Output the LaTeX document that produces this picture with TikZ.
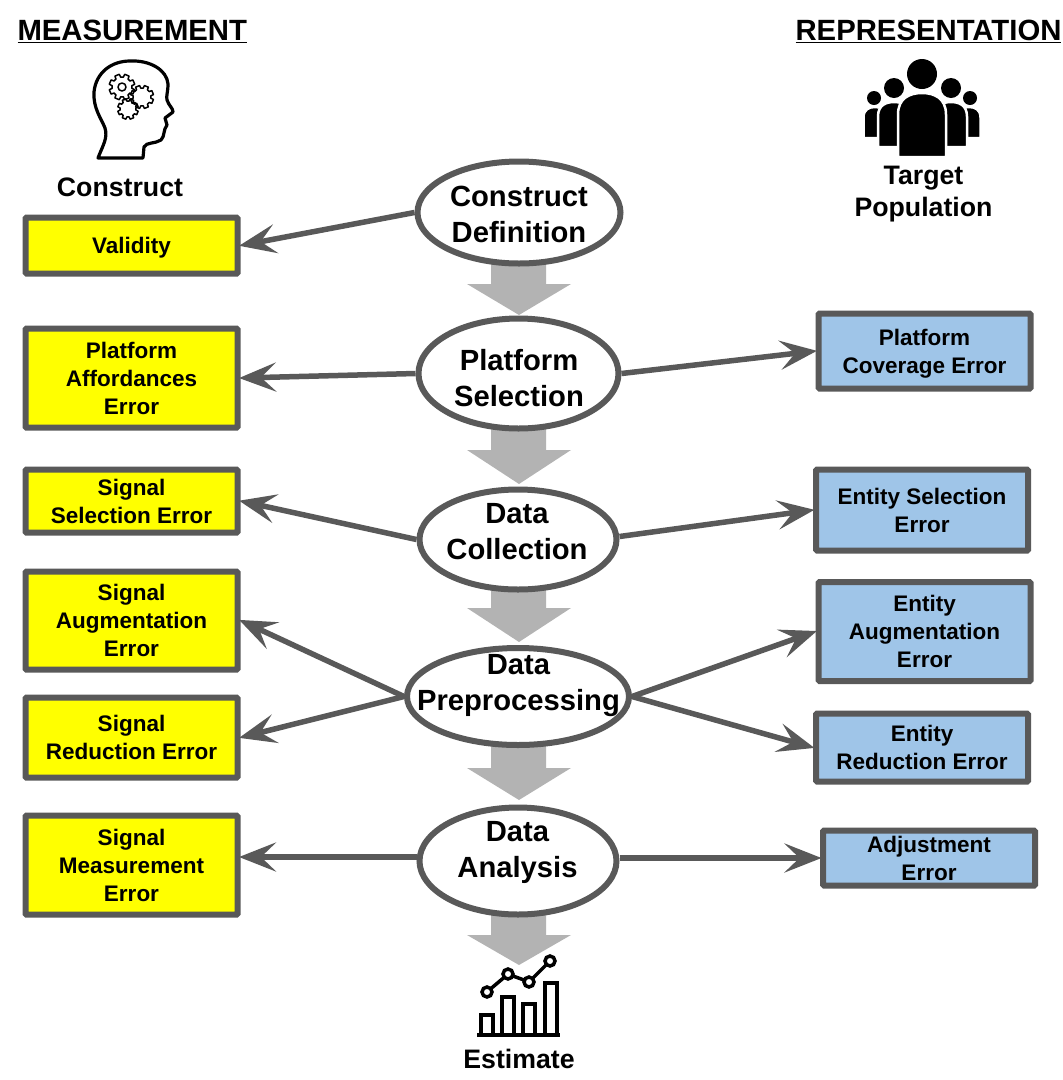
\documentclass[tikz,border=0pt]{standalone}
\usepackage{fontspec}
\setmainfont{Liberation Sans}
\usetikzlibrary{arrows.meta,shapes.geometric}
\definecolor{linegray}{HTML}{595959}
\definecolor{flowgray}{HTML}{B3B3B3}
\definecolor{boxblue}{HTML}{9FC5E8}
\definecolor{boxyellow}{HTML}{FFFF00}
\tikzset{
  errbox/.style={draw=linegray,line width=6pt,rounded corners=1pt,minimum width=212pt,align=center,text depth=0pt,
    font=\fontsize{22.5}{28}\selectfont\bfseries},
  measbox/.style={errbox,fill=boxyellow},
  reprbox/.style={errbox,fill=boxblue},
  stage/.style={draw=linegray,line width=6pt,ellipse,fill=white,inner sep=0pt},
  stagetext/.style={align=center,font=\fontsize{29.2}{36}\selectfont\bfseries},
  caption/.style={align=center,font=\fontsize{26.7}{32}\selectfont\bfseries},
  heading/.style={font=\fontsize{29.3}{34}\selectfont\bfseries},
  conn/.style={draw=linegray,line width=5.5pt,shorten >=-1.5pt,-{Stealth[length=37pt,width=29pt,inset=15pt]}},
  gearline/.style={draw=black,line width=1.5pt,line join=round},
  iconline/.style={draw=black,line width=3.5pt}
}
% one gear of the head icon: x, y, radius
\newcommand{\geartooth}[3]{
  \draw[gearline,shift={(#1,#2)}] (8:#3)
    \foreach \a in {0,45,...,315} {-- (\a+8:#3) -- (\a+12:#3*1.3) -- (\a+33:#3*1.3) -- (\a+37:#3)} -- cycle;
}
% one person of the crowd icon: centre x, half width, top, bottom
\newcommand{\crowdbody}[4]{
  \fill[black,draw=white,line width=2.5pt] (#1-#2,#4) -- (#1-#2,#3+#2*0.9)
    .. controls (#1-#2,#3+#2*0.2) and (#1-#2*0.5,#3) .. (#1,#3)
    .. controls (#1+#2*0.5,#3) and (#1+#2,#3+#2*0.2) .. (#1+#2,#3+#2*0.9)
    -- (#1+#2,#4) -- cycle;
}
\begin{document}
\begin{tikzpicture}[x=1pt,y=-1pt]
\useasboundingbox (0,0) rectangle (1063,1080);

% headings
\node[heading,anchor=west] (meastitle) at (14,31) {\underline{MEASUREMENT}};
\node[heading,anchor=east] (reprtitle) at (1065,31) {\underline{REPRESENTATION}};

% head icon
\draw[black,line width=3.2pt,line join=round] (98,158) .. controls (103,145) and (108,138) .. (105,128)
  .. controls (101,118) and (93,108) .. (94,92)
  .. controls (96,72) and (112,61) .. (130,61)
  .. controls (150,60) and (167,70) .. (168,84)
  .. controls (168,92) and (166,96) .. (167,100)
  .. controls (169,106) and (173,108) .. (173,112)
  -- (165,118) -- (167,125)
  .. controls (163,130) and (165,136) .. (161,140)
  .. controls (155,144) and (146,142) .. (144,147)
  -- (143,158) -- cycle;
\geartooth{122}{87}{10}
\geartooth{142}{97}{9}
\geartooth{128}{109}{8}
\draw[gearline] (122,87) circle (4);
\node[caption] (construct) at (120,187) {Construct};

% crowd icon
\fill (874,98) circle (7);
\fill (970,98) circle (7);
\crowdbody{875}{11.5}{107}{138}
\crowdbody{969}{11.5}{107}{138}
\fill (894,88) circle (10);
\fill (951,88) circle (10);
\crowdbody{894}{16}{102}{147}
\crowdbody{951}{16}{102}{147}
\fill (922,74) circle (15);
\crowdbody{922}{24}{93}{157}
\node[caption] (target) at (923.5,194) {Target\\Population};

% wide grey arrows between the stages
\foreach \ytop/\yhead/\ytip in {262/284/315,428/450/484,590/608/642,745/768/800,915/935/965}
  \fill[flowgray] (491,\ytop) -- (546,\ytop) -- (546,\yhead) -- (571,\yhead) -- (519,\ytip)
    -- (467,\yhead) -- (491,\yhead) -- cycle;

% stages
\node[stage,minimum width=203pt,minimum height=102pt] (definition) at (519,212.5) {};
\node[stagetext] (definitiontxt) at (519,214) {Construct\\Definition};
\node[stage,minimum width=200pt,minimum height=110pt] (platform) at (518.5,373.5) {};
\node[stagetext] (platformtxt) at (519,378) {Platform\\Selection};
\node[stage,minimum width=197pt,minimum height=100pt] (collection) at (518,539.5) {};
\node[stagetext] (collectiontxt) at (517,532) {Data\\Collection};
\node[stage,minimum width=222pt,minimum height=97pt] (preprocessing) at (518,696.5) {};
\node[stagetext] (preprocessingtxt) at (518.5,686) {Data\\Preprocessing};
\node[stage,minimum width=197pt,minimum height=107pt] (analysis) at (518,861) {};
\node[stagetext] (analysistxt) at (517.5,852) {Data\\Analysis};

% measurement errors
\node[measbox,minimum height=56pt] (validity) at (131.5,245.5) {Validity};
\node[measbox,minimum height=99pt] (affordances) at (131.5,378) {Platform\\Affordances\\Error};
\node[measbox,minimum height=63pt] (sigselect) at (131.5,501) {Signal\\Selection Error};
\node[measbox,minimum height=98pt] (sigaugment) at (131.5,620.5) {Signal\\Augmentation\\Error};
\node[measbox,minimum height=80pt] (sigreduce) at (131.5,737.5) {Signal\\Reduction Error};
\node[measbox,minimum height=99pt] (sigmeasure) at (131.5,865) {Signal\\Measurement\\Error};

% representation errors
\node[reprbox,minimum height=75pt] (coverage) at (924.5,351) {Platform\\Coverage Error};
\node[reprbox,minimum height=81pt] (entselect) at (922,510) {Entity Selection\\Error};
\node[reprbox,minimum height=99pt] (entaugment) at (924.5,631.5) {Entity\\Augmentation\\Error};
\node[reprbox,minimum height=68pt] (entreduce) at (922,747.5) {Entity\\Reduction Error};
\node[reprbox,minimum height=55pt] (adjustment) at (929,858) {Adjustment\\Error};

% connectors
\draw[conn] (definition.west) -- (validity.east);
\draw[conn] (platform.west) -- (affordances.east);
\draw[conn] (collection.west) -- (sigselect.east);
\draw[conn] (preprocessing.west) -- (sigaugment.east);
\draw[conn] (preprocessing.west) -- (sigreduce.east);
\draw[conn] ([yshift=4pt]analysis.west) -- ([yshift=8pt]sigmeasure.east);
\draw[conn] (platform.east) -- (coverage.west);
\draw[conn] ([yshift=3pt]collection.east) -- (entselect.west);
\draw[conn] (preprocessing.east) -- (entaugment.west);
\draw[conn] (preprocessing.east) -- (entreduce.west);
\draw[conn] ([yshift=3pt]analysis.east) -- (adjustment.west);

% chart icon
\draw[iconline] (477,1035) -- (560,1035);
\draw[iconline] (481,1035) -- (481,1015) -- (493,1015) -- (493,1035);
\draw[iconline] (502,1035) -- (502,997) -- (514,997) -- (514,1035);
\draw[iconline] (523,1035) -- (523,1004) -- (535,1004) -- (535,1035);
\draw[iconline] (545,1035) -- (545,983) -- (557,983) -- (557,1035);
\draw[iconline] (487,992) circle (5);
\draw[iconline] (508,974) circle (5);
\draw[iconline] (529,982) circle (5);
\draw[iconline] (550,961) circle (5);
\draw[iconline] (491,988.5) -- (504,977.5);
\draw[iconline] (513,976) -- (524,980);
\draw[iconline] (533,978) -- (546,965);
\node[caption] (estimate) at (519,1059) {Estimate};
\end{tikzpicture}
\end{document}
